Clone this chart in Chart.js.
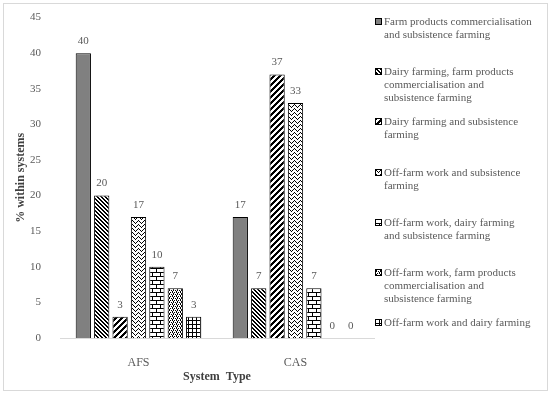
<!DOCTYPE html>
<html>
<head>
<meta charset="utf-8">
<script src="https://cdn.jsdelivr.net/npm/chart.js@4.4.1/dist/chart.umd.min.js"></script>
<style>
    body { margin: 0; background: #fff; }
    #frame { position: absolute; left: 3px; top: 3px; width: 543px; height: 386px; border: 1px solid #d9d9d9; }
    #chart-box { position: absolute; left: 0; top: 0; width: 378px; height: 394px; }
    #legend { position: absolute; left: 374px; top: 15px; width: 172px; font-family: 'Liberation Serif', serif; font-size: 11px; line-height: 13px; color: #595959; }
    .legend-item { display: flex; height: 50.2px; }
    .legend-item canvas { flex: none; width: 7px; height: 7px; margin: 3px 2px 0 1px; }
    .legend-text { white-space: pre-line; }
</style>
</head>
<body>
<div id="frame"></div>
<div id="chart-box"><canvas id="livelihoodChart" width="378" height="394"></canvas></div>
<div id="legend"></div>
<script>
// Livelihood strategies per system type (% within systems)

const systems = ['AFS', 'CAS'];
const livelihoods = [
    'Farm products commercialisation\nand subsistence farming',
    'Dairy farming, farm products\ncommercialisation and\nsubsistence farming',
    'Dairy farming and subsistence\nfarming',
    'Off-farm work and subsistence\nfarming',
    'Off-farm work, dairy farming\nand subsistence farming',
    'Off-farm work, farm products\ncommercialisation and\nsubsistence farming',
    'Off-farm work and dairy farming'
];
const afsValues = [40, 20, 3, 17, 10, 7, 3];
const casValues = [17, 7, 37, 33, 7, 0, 0];
const yMax = 45;
const yStep = 5;

const FONT = "'Liberation Serif', serif";
const TEXT_GREY = '#595959';

// fill pattern per series ('#' black, '.' white)
const patternTiles = [
    null,
    ['##..', '.##.', '..##', '#..#'],
    ['###...', '##...#', '#...##', '...###', '..###.', '.###..'],
    ['#.....', '.#...#', '..#.#.', '...#..'],
    ['########', '#.......', '#.......', '#.......', '########', '....#...', '....#...', '....#...'],
    ['#.#.', '.#..', '.#.#', '#...'],
    ['####', '#...', '#...', '#...']
];

function makePattern(ctx, idx) {
    const tile = patternTiles[idx];
    if (!tile) return '#808080';
    const c = document.createElement('canvas');
    c.width = tile[0].length;
    c.height = tile.length;
    const t = c.getContext('2d');
    t.fillStyle = '#fff';
    t.fillRect(0, 0, c.width, c.height);
    t.fillStyle = '#000';
    tile.forEach((row, y) => {
        for (let x = 0; x < row.length; x++) {
            if (row[x] === '#') t.fillRect(x, y, 1, 1);
        }
    });
    return ctx.createPattern(c, 'repeat');
}

// value labels above each bar
const valueLabels = {
    id: 'valueLabels',
    afterDatasetsDraw(chart) {
        const ctx = chart.ctx;
        ctx.save();
        ctx.font = '11px ' + FONT;
        ctx.fillStyle = TEXT_GREY;
        ctx.textAlign = 'center';
        ctx.textBaseline = 'middle';
        chart.data.datasets.forEach((ds, i) => {
            chart.getDatasetMeta(i).data.forEach((bar, j) => {
                ctx.fillText(String(ds.data[j]), bar.x, bar.y - 12);
            });
        });
        ctx.restore();
    }
};

const canvas = document.getElementById('livelihoodChart');
const mainCtx = canvas.getContext('2d');

const datasets = livelihoods.map((label, i) => ({
    label: label,
    data: [afsValues[i], casValues[i]],
    backgroundColor: makePattern(mainCtx, i),
    borderColor: '#000',
    borderWidth: ctx => (ctx.raw === 0 ? 0 : 1),
    barPercentage: 0.83,
    categoryPercentage: 0.82
}));

const chart = new Chart(mainCtx, {
    type: 'bar',
    data: { labels: systems, datasets: datasets },
    plugins: [valueLabels],
    options: {
        responsive: false,
        animation: false,
        layout: { padding: { top: 16, right: 4, bottom: 0, left: 0 } },
        plugins: {
            legend: { display: false },
            tooltip: { enabled: false }
        },
        scales: {
            x: {
                grid: { display: false },
                border: { color: '#d9d9d9', width: 1 },
                ticks: { color: TEXT_GREY, font: { family: FONT, size: 12 }, padding: 10 },
                title: {
                    display: true,
                    text: 'System  Type',
                    color: '#404040',
                    font: { family: FONT, size: 12, weight: 'bold' },
                    padding: { top: 0, bottom: 10 }
                },
                afterFit(scale) { scale.height = 56; }
            },
            y: {
                min: 0,
                max: yMax,
                grid: { display: false },
                border: { display: false },
                ticks: { stepSize: yStep, color: TEXT_GREY, font: { family: FONT, size: 11 }, padding: 11 },
                title: {
                    display: true,
                    text: '% within systems',
                    color: '#404040',
                    font: { family: FONT, size: 12, weight: 'bold' },
                    padding: { top: 14, bottom: 0 }
                },
                afterFit(scale) { scale.width = 60; }
            }
        }
    }
});

// html legend with pattern swatches
function buildLegend() {
    const box = document.getElementById('legend');
    livelihoods.forEach((label, i) => {
        const item = document.createElement('div');
        item.className = 'legend-item';
        const sw = document.createElement('canvas');
        sw.width = 7;
        sw.height = 7;
        const sctx = sw.getContext('2d');
        sctx.fillStyle = makePattern(sctx, i);
        sctx.fillRect(0, 0, 7, 7);
        sctx.strokeStyle = '#000';
        sctx.lineWidth = 1;
        sctx.strokeRect(0.5, 0.5, 6, 6);
        const txt = document.createElement('div');
        txt.className = 'legend-text';
        txt.textContent = label;
        item.appendChild(sw);
        item.appendChild(txt);
        box.appendChild(item);
    });
}
buildLegend();
</script>
</body>
</html>
